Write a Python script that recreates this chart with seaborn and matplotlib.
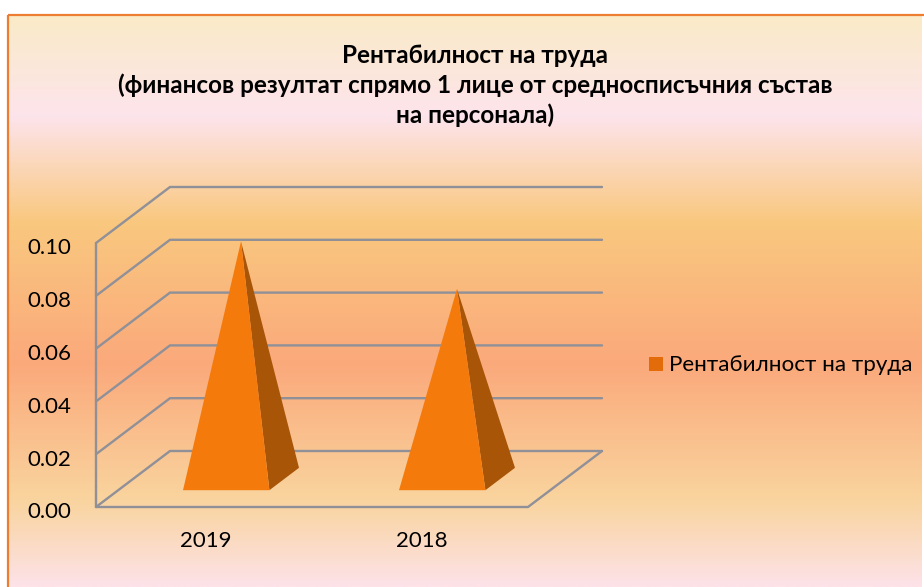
import numpy as np
import pandas as pd
import matplotlib
matplotlib.use("Agg")
import matplotlib.pyplot as plt
from matplotlib.colors import LinearSegmentedColormap
from matplotlib.patches import Polygon, Rectangle
from matplotlib.transforms import ScaledTranslation
import seaborn as sns

# ---- data ----
years = ["2019", "2018"]
values = [0.09, 0.072]
series_name = "Рентабилност на труда"
y_ticks = [0.00, 0.02, 0.04, 0.06, 0.08, 0.10]
title_text = ("Рентабилност на труда\n"
              "(финансов резултат спрямо 1 лице от средносписъчния състав\n"
              "на персонала)")

W, H = 924, 587
sns.set_theme(style="white")
plt.rcParams["font.family"] = ["Lato", "Noto Sans", "DejaVu Sans"]

fig = plt.figure(figsize=(W / 100, H / 100), dpi=100, facecolor="white")

# background panel with vertical gradient
bg = fig.add_axes([0, 0, 1, 1], zorder=0)
bg.set_xlim(0, W); bg.set_ylim(H, 0); bg.axis("off")
L, T, R, B = 8, 15, 922, 587
stops = [(0.0, "#FAEBC8"), (0.175, "#FDE4EC"), (0.36, "#F9C87F"), (0.61, "#FBA97B"),
         (0.85, "#F9D49E"), (1.0, "#FDE2E8")]
cmap = LinearSegmentedColormap.from_list("bg", stops)
bg.imshow(np.linspace(0, 1, 400)[:, None], cmap=cmap, aspect="auto",
          extent=(L, R, B, T), zorder=0)
bg.set_xlim(0, W); bg.set_ylim(H, 0)
bg.add_patch(Rectangle((L, T), R - L + 10, B - T + 5, fill=False, ec="#ED7D31", lw=1.6, zorder=1, clip_on=True))

# main axes: pixel box x 96..602, y 187..507
x0, x1, y0, y1 = 96, 602, 507, 187
ax = fig.add_axes([x0 / W, 1 - y0 / H, (x1 - x0) / W, (y0 - y1) / H], zorder=2)
ax.patch.set_alpha(0)

df = pd.DataFrame({"year": years, "value": values})
sns.barplot(data=df, x="year", y="value", width=0.4, color="#F57A0C", ax=ax, saturation=1)

cat_px = 216.0
val_px = 2640.0
shear_x = 74 / cat_px      # category units per full depth
shear_y = 56 / val_px      # value units per full depth
ax.set_xlim(-0.5, -0.5 + (x1 - x0) / cat_px)
ax.set_ylim(0, (y0 - y1) / val_px)


def proj(x, v, d):
    return (x + shear_x * d, v + shear_y * d)


# grid walls
grid_c = "#8F9098"
lw = 1.7
for v in y_ticks:
    ax.plot(*zip(proj(-0.5, v, 0), proj(-0.5, v, 1), proj(1.5, v, 1)),
            color=grid_c, lw=lw, clip_on=False, zorder=1, solid_joinstyle="miter")
ax.plot(*zip(proj(-0.5, 0, 0), proj(-0.5, y_ticks[-1], 0)), color=grid_c, lw=lw, zorder=1, clip_on=False)
ax.plot(*zip(proj(-0.5, 0, 0), proj(1.5, 0, 0), proj(1.5, 0, 1)), color=grid_c, lw=lw, zorder=1, clip_on=False)

# pyramids built from the seaborn bars
d0, d1 = 0.30, 0.70
for bar in list(ax.patches):
    xl, w, v = bar.get_x(), bar.get_width(), bar.get_height()
    bar.set_visible(False)
    xc = xl + w / 2
    apex = proj(xc, v, 0.5)
    fl, fr, br = proj(xl, 0, d0), proj(xl + w, 0, d0), proj(xl + w, 0, d1)
    ax.add_patch(Polygon([fr, br, apex], closed=True, fc="#A85508", ec="none", zorder=3, clip_on=False))
    ax.add_patch(Polygon([fl, fr, apex], closed=True, fc="#F57A0C", ec="none", zorder=4, clip_on=False))

for s in ax.spines.values():
    s.set_visible(False)
ax.set_xlabel(""); ax.set_ylabel("")
ax.set_yticks(y_ticks)
ax.set_yticklabels([f"{t:.2f}" for t in y_ticks], fontsize=16, color="black")
ax.tick_params(axis="both", length=0, labelsize=16, labelcolor="black")
ax.tick_params(axis="y", pad=17.5)
ax.tick_params(axis="x", pad=17.5)
shift_y = ScaledTranslation(0, -3.5 / 100, fig.dpi_scale_trans)
shift_x = ScaledTranslation(1.5 / 100, 0, fig.dpi_scale_trans)
for lab in ax.get_yticklabels():
    lab.set_transform(lab.get_transform() + shift_y)
for lab in ax.get_xticklabels():
    lab.set_transform(lab.get_transform() + shift_x)

# title and legend
fig.text(475 / W, 1 - 85.5 / H, title_text, ha="center", va="center", fontsize=17.5,
         fontweight="bold", color="black", linespacing=1.33)
bg.add_patch(Rectangle((649, 357), 14, 14, fc="#E36C0A", ec="none", zorder=3))
bg.text(669, 365, series_name, fontsize=16.1, va="center", ha="left", color="black", zorder=3)

fig.savefig("out.png", dpi=100)
